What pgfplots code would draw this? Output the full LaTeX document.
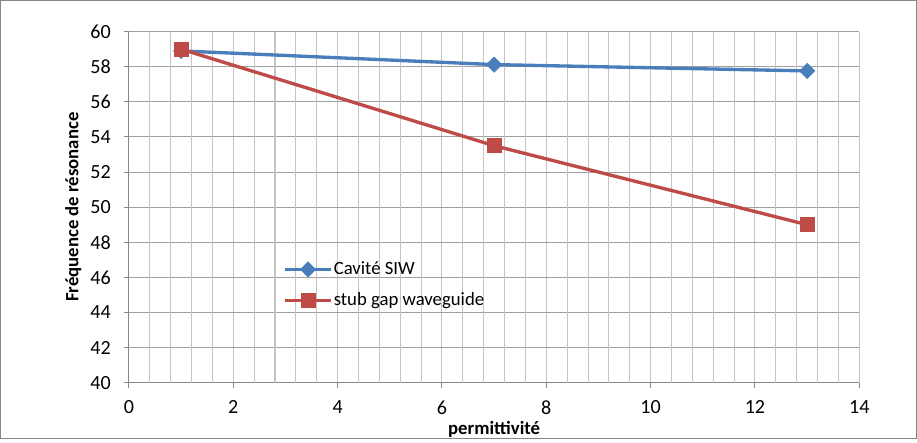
\documentclass[border=0pt]{standalone}
\usepackage{pgfplots}
\pgfplotsset{compat=1.18}
\usepackage{fontspec}
\setmainfont{Carlito}
\definecolor{sivblue}{HTML}{4A7EBB}
\definecolor{stubred}{HTML}{BE4B48}
\definecolor{majgrid}{HTML}{A0A0A0}
\definecolor{mingrid}{HTML}{C4C4C4}
\definecolor{axgray}{HTML}{868686}

\begin{document}
\begin{tikzpicture}
% frame of the chart area (1px = 0.75pt)
\draw[axgray, line width=0.75pt] (-96pt,-42pt) rectangle (588.75pt,285.75pt);
\begin{axis}[
  at={(0pt,0pt)}, anchor=south west,
  scale only axis,
  width=546pt, height=262.5pt,
  xmin=0, xmax=14, ymin=40, ymax=60,
  xtick={0,2,4,6,8,10,12,14}, ytick={40,42,...,60},
  extra x ticks={0.4,0.8,1.2,1.6,2.4,2.8,3.2,3.6,4.4,4.8,5.2,5.6,6.4,6.8,7.2,7.6,
    8.4,8.8,9.2,9.6,10.4,10.8,11.2,11.6,12.4,12.8,13.2,13.6},
  extra x tick labels={},
  extra x tick style={grid=major, major tick length=0pt},
  xmajorgrids, ymajorgrids,
  major x grid style={mingrid, line width=0.75pt},
  major y grid style={majgrid, line width=0.75pt},
  axis x line*=bottom, axis y line*=left,
  axis line style={axgray, line width=0.75pt, -},
  tick style={axgray, line width=0.75pt},
  major tick length=4pt,
  tick align=outside,
  xtick pos=bottom, ytick pos=left,
  /pgf/number format/assume math mode=true,
  tick label style={font=\fontsize{15}{17}\selectfont, black},
  xticklabel style={yshift=-6pt},
  yticklabel style={xshift=-6pt},
  xlabel={\textbf{permittivité}},
  ylabel={\textbf{Fréquence de résonance}},
  label style={font=\fontsize{14}{16}\selectfont},
  xlabel style={at={(axis description cs:0.5,0)}, anchor=base, yshift=-39pt},
  ylabel style={at={(axis description cs:0,0.5)}, anchor=south, yshift=32pt},
  legend style={at={(rel axis cs:0.206,0.356)}, anchor=north west, draw=none, fill=none,
    font=\fontsize{14}{16}\selectfont, row sep=10pt,
    nodes={inner xsep=1pt, inner ysep=1pt}},
  legend cell align=left,
  legend image code/.code={
    \draw[mark repeat=2, mark phase=2] plot coordinates {(0pt,0pt)(17pt,0pt)(34pt,0pt)};
  },
]
\addplot[sivblue, line width=2.5pt, mark=square*, mark size=4pt,
  mark options={rotate=45, line width=0.5pt, fill=sivblue}] coordinates {
  (1, 58.9)
  (7, 58.12)
  (13, 57.76)
};
\addlegendentry{Cavité SIW}
\addplot[stubred, line width=2.5pt, mark=square*, mark size=5.2pt,
  mark options={line width=0.5pt, fill=stubred}] coordinates {
  (1, 59.0)
  (7, 53.5)
  (13, 49.0)
};
\addlegendentry{stub gap waveguide}
\end{axis}
\end{tikzpicture}
\end{document}
